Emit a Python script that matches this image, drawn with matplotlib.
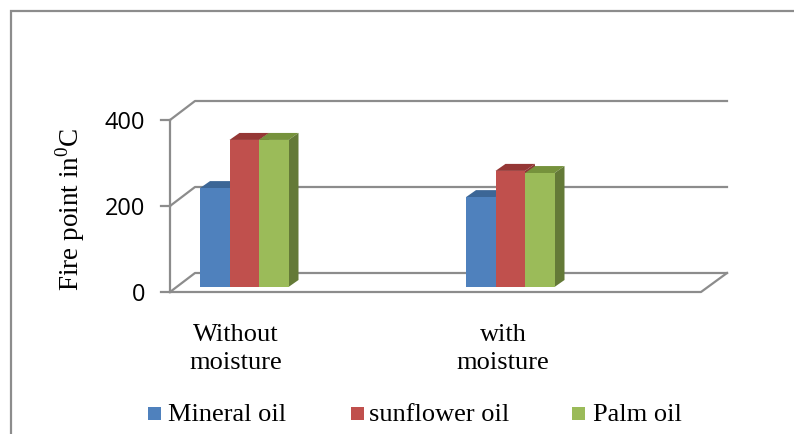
import matplotlib
matplotlib.use('Agg')
import matplotlib.pyplot as plt
from matplotlib.patches import Polygon, Rectangle

categories = ['Without\nmoisture', 'with\nmoisture']
series = ['Mineral oil', 'sunflower oil', 'Palm oil']
mineral = [230, 209]
sunflower = [342, 270]
palm = [342, 265]
yticks = [0, 200, 400]

front = ['#4f81bd', '#c0504d', '#9bbb59']
top = ['#3c6696', '#953735', '#76923c']
side = ['#385d8a', '#8c3836', '#647a37']
grid = '#8c8c8c'

# one axes over the whole figure: x is pixels, y is the chart value
px_per_unit = 0.43
zero_px = 292
fig = plt.figure(figsize=(7.94, 4.34), dpi=100)
ax = fig.add_axes([0, 0, 1, 1])
ax.set_xlim(0, 794)
ax.set_ylim(-(434 - zero_px) / px_per_unit, zero_px / px_per_unit)
ax.axis('off')

serif = 'Liberation Serif'
plt.rcParams['mathtext.fontset'] = 'custom'
plt.rcParams['mathtext.rm'] = serif
wall_dx, wall_dy = 25, 19 / px_per_unit
base = 5 / px_per_unit
bar_w = 29.5
bar_dx, bar_dy = 10, 7 / px_per_unit
group_x = [200, 466]


def y_of(px):
    return (zero_px - px) / px_per_unit


# outer frame, cut by the picture on the right and bottom
ax.add_patch(Rectangle((11, y_of(600)), 900, y_of(11) - y_of(600), fill=False, ec='#8c8c8c', lw=1.6))

# walls and floor
for v in yticks:
    ax.plot([170, 170 + wall_dx, 727], [v, v + wall_dy, v + wall_dy], color=grid, lw=1.6, zorder=1)
    ax.plot([161, 170], [v, v], color=grid, lw=1.6, zorder=1)
    ax.text(145, v - 3 / px_per_unit, str(v), ha='right', va='center', fontsize=17, family='Open Sans', color='black')
ax.plot([170, 170], [0, 400], color=grid, lw=1.6, zorder=1)
ax.plot([170, 701, 727], [0, 0, wall_dy], color=grid, lw=1.6, zorder=1)

# bars
for i, values in enumerate([mineral, sunflower, palm]):
    for g, v in enumerate(values):
        x0 = group_x[g] + i * bar_w
        x1 = x0 + bar_w
        y1 = base + v
        ax.bar(x0, v, bar_w, bottom=base, align='edge', color=front[i], zorder=3 + i * 2)
        ax.add_patch(Polygon([(x0, y1), (x0 + bar_dx, y1 + bar_dy), (x1 + bar_dx, y1 + bar_dy), (x1, y1)],
                             fc=top[i], ec='none', zorder=2 + i * 2))
        ax.add_patch(Polygon([(x1, base), (x1 + bar_dx, base + bar_dy), (x1 + bar_dx, y1 + bar_dy), (x1, y1)],
                             fc=side[i], ec='none', zorder=2 + i * 2))

# labels
for x, name in zip([236, 503], categories):
    ax.text(x, y_of(349), name, ha='center', va='center', fontsize=19,
            family=serif, linespacing=1.4, color='black')

ax.text(70, y_of(209), 'Fire point in$^{\\mathrm{0}}$C', rotation=90, ha='center', va='center',
        fontsize=19.5, family=serif, color='black')

# legend
for x, tx, c, name in zip([148, 351, 572], [168, 369, 593], front, series):
    ax.add_patch(Rectangle((x, y_of(420)), 13, 13 / px_per_unit, fc=c, ec='none'))
    ax.text(tx, y_of(415), name, ha='left', va='center', fontsize=19,
            family=serif, color='black')

fig.savefig('out.png', dpi=100)
